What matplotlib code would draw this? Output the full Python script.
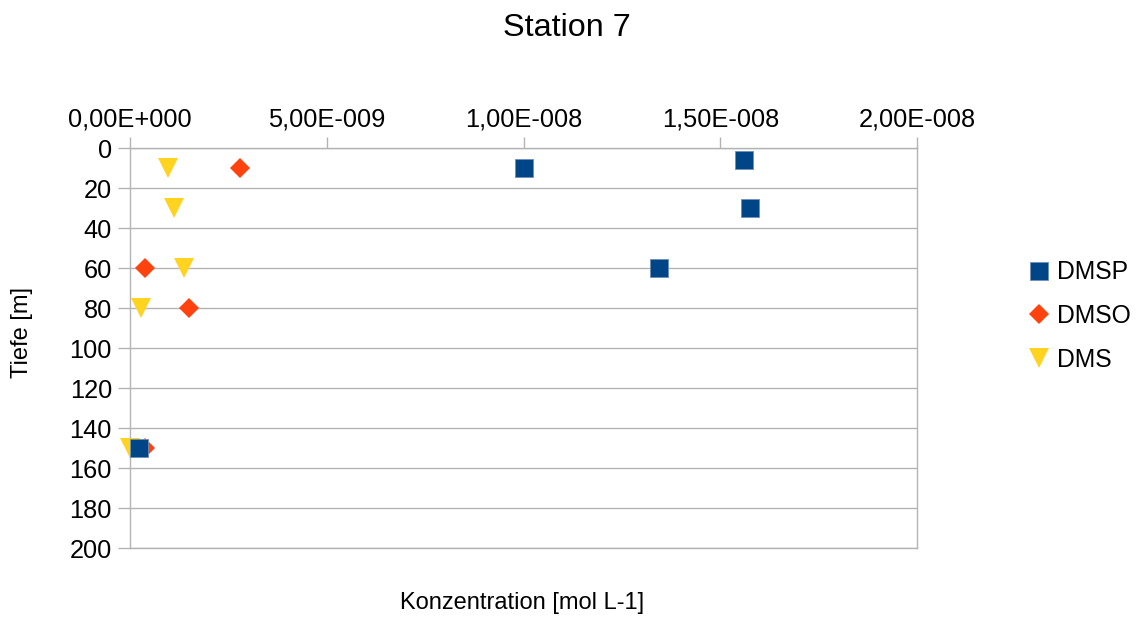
import numpy as np
import matplotlib
matplotlib.use("Agg")
import matplotlib.pyplot as plt
from matplotlib.ticker import FuncFormatter

plt.rcParams['font.family'] = ['Liberation Sans', 'DejaVu Sans']

# depth profiles, station 7
dmsp_conc = [1.00e-8, 1.56e-8, 1.576e-8, 1.344e-8, 0.023e-8]
dmsp_depth = [10, 6, 30, 60, 150]
dmso_conc = [2.8e-9, 0.38e-9, 1.5e-9, 0.38e-9]
dmso_depth = [10, 60, 80, 150]
dms_conc = [0.97e-9, 1.12e-9, 1.37e-9, 0.28e-9, 0.0]
dms_depth = [10, 30, 60, 80, 150]

x_ticks = [0, 5e-9, 1e-8, 1.5e-8, 2e-8]
y_ticks = list(range(0, 201, 20))

grid_col = '#b3b3b3'


def sci_comma(v, pos=None):
    if v == 0:
        return '0,00E+000'
    exp = int(np.floor(np.log10(abs(v))))
    mant = v / 10 ** exp
    sign = '+' if exp >= 0 else '-'
    return f"{mant:.2f}".replace('.', ',') + f"E{sign}{abs(exp):03d}"


fig = plt.figure(figsize=(11.41, 6.17), dpi=100)
ax = fig.add_axes([130 / 1141, 1 - 548 / 617, 787 / 1141, 400 / 617])

ax.plot(dms_conc, dms_depth, linestyle='none', marker='v', markersize=14,
        color='#ffd320', markeredgewidth=0, label='DMS', zorder=3, clip_on=False)
ax.plot(dmso_conc, dmso_depth, linestyle='none', marker='D', markersize=9.7,
        color='#ff420e', markeredgewidth=0, label='DMSO', zorder=4, clip_on=False)
ax.plot(dmsp_conc, dmsp_depth, linestyle='none', marker='s', markersize=13.5,
        color='#004586', markeredgecolor='#6f8fb8', markeredgewidth=0.6,
        label='DMSP', zorder=5, clip_on=False)

ax.set_xlim(0, 2e-8)
ax.set_ylim(200, 0)
ax.set_xticks(x_ticks)
ax.set_yticks(y_ticks)
ax.xaxis.set_major_formatter(FuncFormatter(sci_comma))
ax.xaxis.tick_top()
ax.tick_params(axis='x', direction='out', length=8, width=1, color=grid_col,
               labelsize=18.3, pad=4)
ax.tick_params(axis='y', direction='out', length=9, width=1, color=grid_col,
               labelsize=18.3, pad=4)
ax.grid(axis='y', color=grid_col, linewidth=1)
ax.set_axisbelow(True)
for side in ['left', 'right', 'top', 'bottom']:
    ax.spines[side].set_color(grid_col)
    ax.spines[side].set_linewidth(1)

fig.text(567 / 1141, 1 - 28 / 617, 'Station 7', ha='center', va='center', fontsize=23.3)
fig.text(522 / 1141, 1 - 603 / 617, 'Konzentration [mol L-1]', ha='center', va='center',
         fontsize=17)
fig.text(22 / 1141, 1 - 332 / 617, 'Tiefe [m]', ha='center', va='center', rotation=90,
         fontsize=17)

handles, labels = ax.get_legend_handles_labels()
order = [2, 1, 0]
fig.legend([handles[i] for i in order], [labels[i] for i in order],
           loc='center left', bbox_to_anchor=(1017 / 1141, 1 - 316 / 617),
           frameon=False, fontsize=17.8, handlelength=0.8, handletextpad=0.3,
           labelspacing=0.8, borderpad=0)

fig.savefig('out.png', dpi=100)
